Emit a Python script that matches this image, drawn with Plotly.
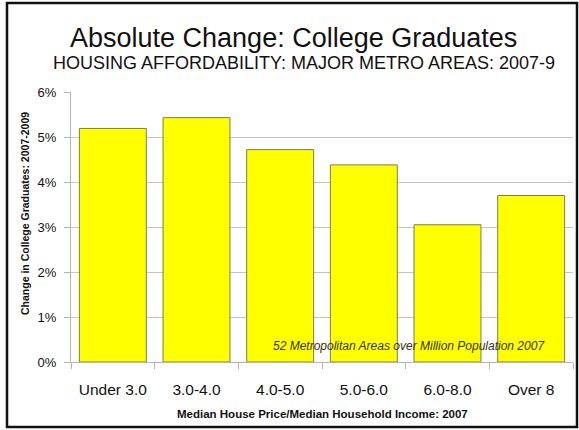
import plotly.graph_objects as go

categories = ["Under 3.0", "3.0-4.0", "4.0-5.0", "5.0-6.0", "6.0-8.0", "Over 8"]
values = [5.19, 5.43, 4.72, 4.38, 3.05, 3.70]  # percent
y_ticks = [0, 1, 2, 3, 4, 5, 6]
y_tick_labels = ["0%", "1%", "2%", "3%", "4%", "5%", "6%"]

title_text = "Absolute Change: College Graduates"
subtitle_text = "HOUSING AFFORDABILITY: MAJOR METRO AREAS: 2007-9"
x_title = "Median House Price/Median Household Income: 2007"
y_title = "Change in College Graduates: 2007-2009"
note_text = "52 Metropolitan Areas over Million Population 2007"

W, H = 579, 430
L, R, T, B = 71, 6, 92, 68
PW, PH = W - L - R, H - T - B


def px(x):
    return (x - L) / PW


def py(y):
    return (H - B - y) / PH


fig = go.Figure()
fig.add_trace(go.Bar(
    x=categories, y=values,
    marker=dict(color="#FFFF00", line=dict(color="#7d7d55", width=1)),
    showlegend=False, hoverinfo="skip",
))

fig.update_layout(
    width=W, height=H,
    margin=dict(l=L, r=R, t=T, b=B, autoexpand=False),
    paper_bgcolor="white", plot_bgcolor="white",
    bargap=0.2,
    font=dict(family="Liberation Sans, Arial, sans-serif", color="black"),
    xaxis=dict(
        automargin=False,
        showgrid=False, showline=True, linecolor="#b4b4b4", linewidth=1,
        ticks="outside", tickson="boundaries", ticklen=6, tickcolor="#b4b4b4",
        tickangle=0,
        tickfont=dict(size=15.5, color="#111111"),
        ticklabelstandoff=13,
    ),
    yaxis=dict(
        automargin=False,
        range=[0, 6], tickvals=y_ticks, ticktext=y_tick_labels,
        showgrid=True, gridcolor="#c4c4c4", gridwidth=1,
        showline=True, linecolor="#b4b4b4", linewidth=1,
        ticks="outside", ticklen=6, tickcolor="#b4b4b4",
        tickfont=dict(size=13, color="#111111"),
        ticklabelstandoff=5,
        zeroline=False,
    ),
    shapes=[
        dict(type="rect", xref="paper", yref="paper",
             x0=px(7), x1=px(577), y0=py(427), y1=py(3),
             line=dict(color="#111111", width=2.5), fillcolor="rgba(0,0,0,0)", layer="above"),
    ],
    annotations=[
        dict(text=title_text, xref="paper", yref="paper", x=px(293), y=py(38),
             xanchor="center", yanchor="middle", showarrow=False,
             font=dict(size=27, color="#111111")),
        dict(text=subtitle_text, xref="paper", yref="paper", x=px(304), y=py(62.5),
             xanchor="center", yanchor="middle", showarrow=False,
             font=dict(size=18, color="#111111")),
        dict(text="<b>" + x_title + "</b>", xref="paper", yref="paper", x=px(322), y=py(414),
             xanchor="center", yanchor="middle", showarrow=False,
             font=dict(size=11.5, color="#111111")),
        dict(text="<b>" + y_title + "</b>", xref="paper", yref="paper", x=px(25), y=py(214),
             xanchor="center", yanchor="middle", showarrow=False, textangle=-90,
             font=dict(size=10.5, color="#111111")),
        dict(text="<i>" + note_text + "</i>", xref="paper", yref="paper", x=px(409), y=py(346),
             xanchor="center", yanchor="middle", showarrow=False,
             font=dict(size=12, color="#33331a")),
    ],
)

fig.write_html("out.html", config={"displayModeBar": False},
               post_script="document.body.style.margin='0px';")
